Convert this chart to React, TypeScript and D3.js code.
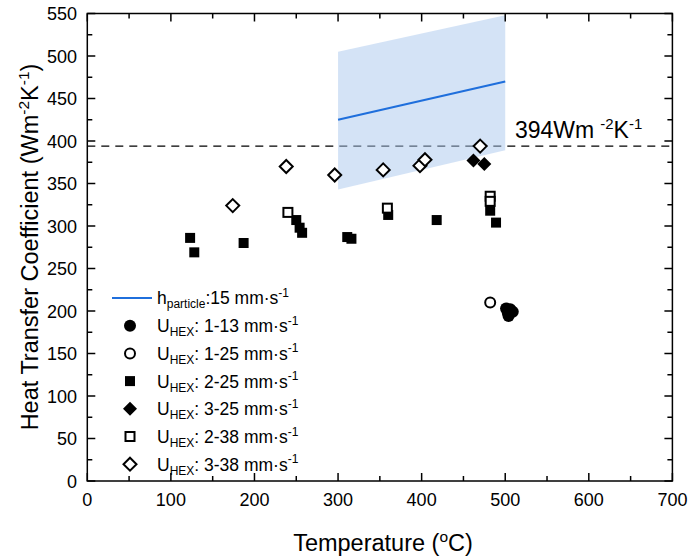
import * as d3 from 'd3';

const xTicks = [0, 100, 200, 300, 400, 500, 600, 700];
const yTicks = [0, 50, 100, 150, 200, 250, 300, 350, 400, 450, 500, 550];

// h_particle line and its band
const hLine = [
  { t: 300, h: 425 },
  { t: 500, h: 470 },
];
const hBand = [
  { t: 300, lo: 343, hi: 505 },
  { t: 500, lo: 389, hi: 548 },
];
const threshold = 394;

const u1_13 = [
  { t: 501, h: 203 },
  { t: 506, h: 202 },
  { t: 504, h: 194 },
  { t: 509, h: 199 },
  { t: 503, h: 198 },
];
const u1_25 = [{ t: 482, h: 210 }];
const u2_25 = [
  { t: 123, h: 286 },
  { t: 128, h: 269 },
  { t: 187, h: 280 },
  { t: 250, h: 307 },
  { t: 254, h: 298 },
  { t: 257, h: 292 },
  { t: 311, h: 287 },
  { t: 316, h: 285 },
  { t: 360, h: 313 },
  { t: 418, h: 307 },
  { t: 482, h: 318 },
  { t: 489, h: 304 },
];
const u3_25 = [
  { t: 462, h: 377 },
  { t: 475, h: 373 },
];
const u2_38 = [
  { t: 240, h: 316 },
  { t: 359, h: 321 },
  { t: 482, h: 335 },
  { t: 482, h: 329 },
];
const u3_38 = [
  { t: 174, h: 324 },
  { t: 238, h: 370 },
  { t: 296, h: 360 },
  { t: 354, h: 366 },
  { t: 398, h: 371 },
  { t: 404, h: 378 },
  { t: 470, h: 394 },
];

const legendLabels = ['1-13', '1-25', '2-25', '3-25', '2-38', '3-38'];

const W = 689;
const H = 560;
const m = { left: 87.3, right: 672.4, top: 13.5, bottom: 481 };
const FONT = '"Liberation Sans", Arial, sans-serif';
const BLUE = '#1f6fdc';

type Shape = 'circle' | 'square' | 'diamond';

const Marker = ({ x, y, shape, filled }: { x: number; y: number; shape: Shape; filled: boolean }) => {
  const fill = filled ? '#000' : '#fff';
  const sw = filled ? 0 : 2;
  if (shape === 'circle') {
    const r = filled ? 6 : 5;
    return <circle cx={x} cy={y} r={r} fill={fill} stroke="#000" strokeWidth={sw} />;
  }
  if (shape === 'square') {
    const s = filled ? 10 : 9;
    return <rect x={x - s / 2} y={y - s / 2} width={s} height={s} fill={fill} stroke="#000" strokeWidth={sw} />;
  }
  const d = filled ? 7 : 6.5;
  return (
    <path
      d={`M${x},${y - d}L${x + d},${y}L${x},${y + d}L${x - d},${y}Z`}
      fill={fill}
      stroke="#000"
      strokeWidth={sw}
      strokeLinejoin="miter"
    />
  );
};

const App = () => {
  const x = d3.scaleLinear().domain([0, 700]).range([m.left, m.right]);
  const y = d3.scaleLinear().domain([0, 550]).range([m.bottom, m.top]);

  const line = d3
    .line<{ t: number; h: number }>()
    .x((d) => x(d.t))
    .y((d) => y(d.h));
  const area = d3
    .area<{ t: number; lo: number; hi: number }>()
    .x((d) => x(d.t))
    .y0((d) => y(d.lo))
    .y1((d) => y(d.hi));

  const xMinor = d3.range(50, 700, 100);
  const yMinor = d3.range(25, 550, 50);

  const series: { data: { t: number; h: number }[]; shape: Shape; filled: boolean }[] = [
    { data: u1_13, shape: 'circle', filled: true },
    { data: u1_25, shape: 'circle', filled: false },
    { data: u2_25, shape: 'square', filled: true },
    { data: u3_25, shape: 'diamond', filled: true },
    { data: u2_38, shape: 'square', filled: false },
    { data: u3_38, shape: 'diamond', filled: false },
  ];

  const legX = 130;
  const legY0 = 298;
  const legStep = 27.7;

  return (
    <svg width={W} height={H} style={{ position: 'absolute', left: 0, top: 0 }} fontFamily={FONT}>
      <rect width={W} height={H} fill="#fff" />

      {/* dashed threshold line */}
      <line
        x1={m.left}
        x2={m.right}
        y1={y(threshold)}
        y2={y(threshold)}
        stroke="#000"
        strokeWidth={1.3}
        strokeDasharray="8,6"
      />

      <path d={area(hBand) ?? ''} fill="#a9c8ee" fillOpacity={0.5} />
      <path d={line(hLine) ?? ''} fill="none" stroke={BLUE} strokeWidth={2.2} />

      <text x={515} y={138} fontSize={23}>
        394Wm
        <tspan dx={6} dy={-9} fontSize={15}>-2</tspan>
        <tspan dy={9}>K</tspan>
        <tspan dy={-9} fontSize={15}>-1</tspan>
      </text>

      {series.map((s, i) =>
        s.data.map((d, j) => (
          <Marker key={`${i}-${j}`} x={x(d.t)} y={y(d.h)} shape={s.shape} filled={s.filled} />
        ))
      )}

      {/* frame */}
      <rect
        x={m.left}
        y={m.top}
        width={m.right - m.left}
        height={m.bottom - m.top}
        fill="none"
        stroke="#000"
        strokeWidth={1.5}
      />

      {/* ticks */}
      {xTicks.map((t) => (
        <g key={`xt${t}`}>
          <line x1={x(t)} x2={x(t)} y1={m.bottom} y2={m.bottom - 8} stroke="#000" strokeWidth={1.5} />
          <line x1={x(t)} x2={x(t)} y1={m.top} y2={m.top + 8} stroke="#000" strokeWidth={1.5} />
          <text x={x(t)} y={506} fontSize={18} textAnchor="middle">
            {t}
          </text>
        </g>
      ))}
      {xMinor.map((t) => (
        <g key={`xm${t}`}>
          <line x1={x(t)} x2={x(t)} y1={m.bottom} y2={m.bottom - 5} stroke="#000" strokeWidth={1.5} />
          <line x1={x(t)} x2={x(t)} y1={m.top} y2={m.top + 5} stroke="#000" strokeWidth={1.5} />
        </g>
      ))}
      {yTicks.map((t) => (
        <g key={`yt${t}`}>
          <line x1={m.left} x2={m.left + 8} y1={y(t)} y2={y(t)} stroke="#000" strokeWidth={1.5} />
          <line x1={m.right} x2={m.right - 8} y1={y(t)} y2={y(t)} stroke="#000" strokeWidth={1.5} />
          <text x={77} y={y(t) + 6.5} fontSize={18} textAnchor="end">
            {t}
          </text>
        </g>
      ))}
      {yMinor.map((t) => (
        <g key={`ym${t}`}>
          <line x1={m.left} x2={m.left + 5} y1={y(t)} y2={y(t)} stroke="#000" strokeWidth={1.5} />
          <line x1={m.right} x2={m.right - 5} y1={y(t)} y2={y(t)} stroke="#000" strokeWidth={1.5} />
        </g>
      ))}

      {/* axis titles */}
      <text x={383} y={551} fontSize={23.5} textAnchor="middle">
        Temperature (
        <tspan dy={-9} fontSize={15.5}>o</tspan>
        <tspan dy={9}>C)</tspan>
      </text>
      <text transform={`translate(38,${247}) rotate(-90)`} fontSize={23.5} textAnchor="middle">
        Heat Transfer Coefficient (Wm
        <tspan dy={-9} fontSize={15.5}>-2</tspan>
        <tspan dy={9}>K</tspan>
        <tspan dy={-9} fontSize={15.5}>-1</tspan>
        <tspan dy={9}>)</tspan>
      </text>

      {/* legend */}
      <g fontSize={17.5}>
        <line x1={112} x2={152} y1={legY0} y2={legY0} stroke={BLUE} strokeWidth={2.2} />
        <text x={157} y={legY0 + 6}>
          h
          <tspan dy={4} fontSize={12}>particle</tspan>
          <tspan dy={-4}>:15 mm·s</tspan>
          <tspan dy={-7} fontSize={12}>-1</tspan>
        </text>
        {series.map((s, i) => {
          const ly = legY0 + legStep * (i + 1);
          return (
            <g key={`leg${i}`}>
              <Marker x={legX} y={ly} shape={s.shape} filled={s.filled} />
              <text x={157} y={ly + 6.5}>
                U
                <tspan dy={4} fontSize={12}>HEX</tspan>
                <tspan dy={-4}>: {legendLabels[i]} mm·s</tspan>
                <tspan dy={-7.5} fontSize={12}>-1</tspan>
              </text>
            </g>
          );
        })}
      </g>
    </svg>
  );
};

export default App;
